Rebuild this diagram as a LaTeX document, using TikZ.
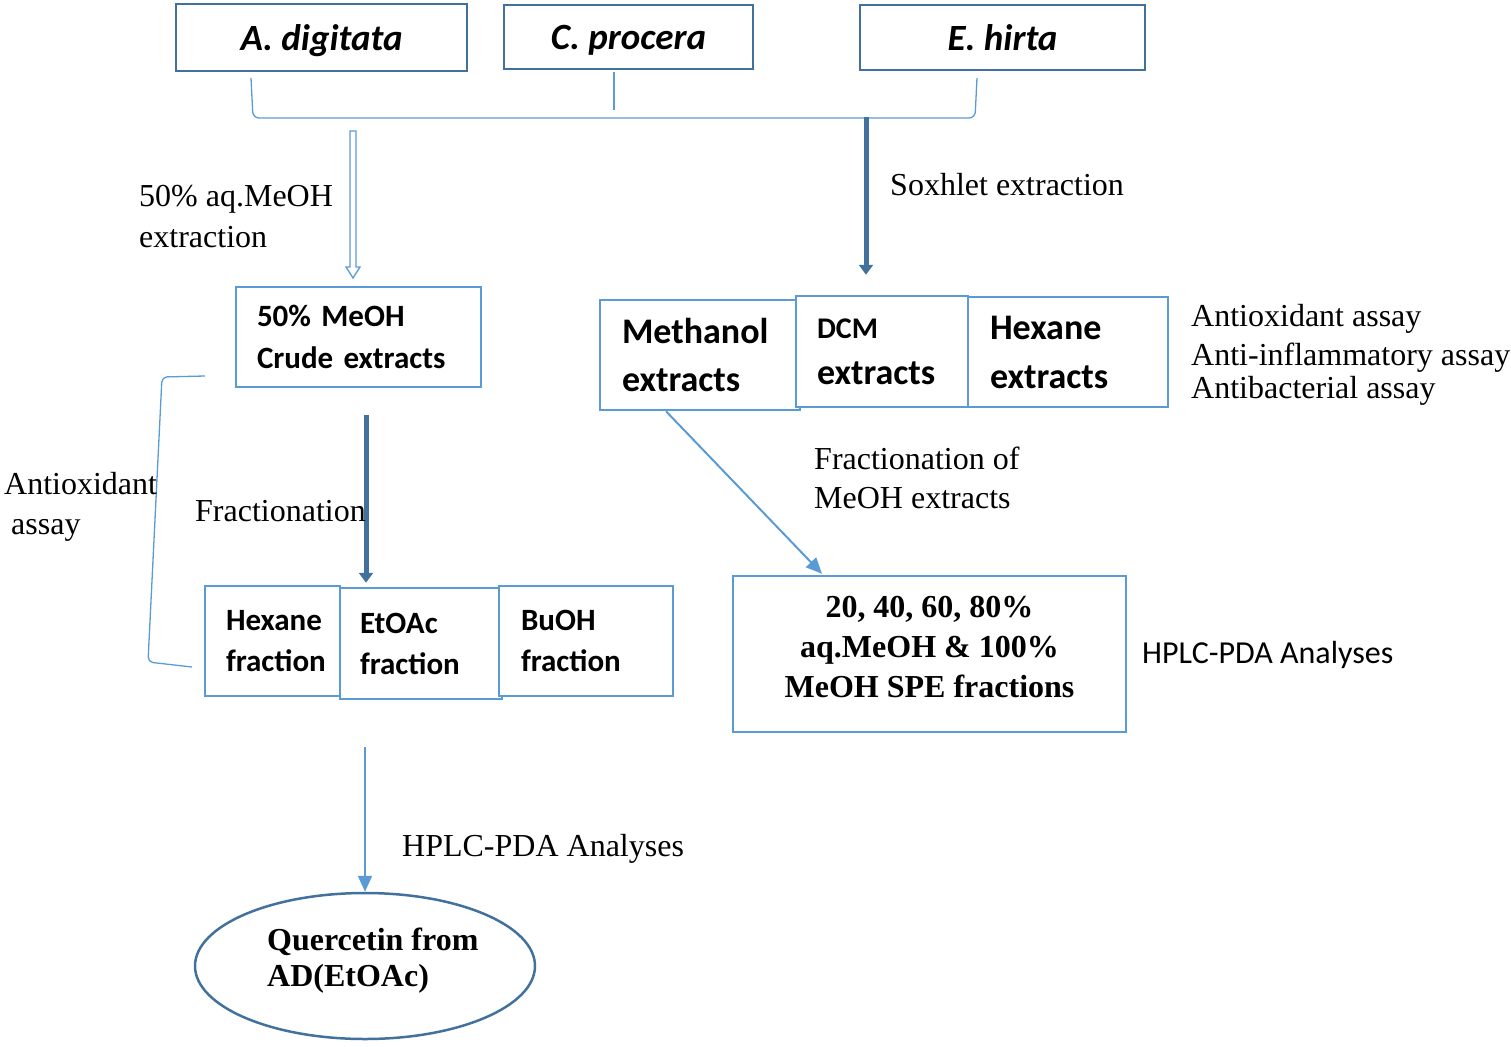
\documentclass[tikz,border=0pt]{standalone}
\usepackage{fontspec}
\setmainfont{Liberation Serif}
\setsansfont{Carlito}
\usetikzlibrary{arrows.meta,shapes.geometric,calc}
\definecolor{lb}{RGB}{91,155,213}
\definecolor{db}{RGB}{65,113,156}
\hfuzz=200pt
\begin{document}
\begin{tikzpicture}[x=1pt,y=-1pt,
  topbox/.style={draw=db, line width=2.5pt, inner sep=0pt, text height=34pt, text depth=8pt,
    font=\sffamily\bfseries\itshape\fontsize{37}{44}\selectfont},
  box/.style={draw=lb, line width=2.5pt, fill=white, align=left, inner sep=0pt,
    font=\sffamily\bfseries},
  lbl/.style={anchor=base west, inner sep=0pt, font=\fontsize{32}{40}\selectfont},
  thinline/.style={draw=lb, line width=1.3pt},
  thickarr/.style={draw=db, line width=5pt, -{Triangle[length=10pt,width=14pt]}},
  thinarr/.style={draw=lb, line width=2pt, -{Triangle[length=16pt,width=14pt]}}
]
\useasboundingbox (0,0) rectangle (1511,1046);

% top boxes
\node[topbox, minimum width=291pt, minimum height=67pt] (adig) at (321.5,37.5) {A. digitata};
\node[topbox, minimum width=249pt, minimum height=64pt] (cpro) at (628.5,37) {C. procera};
\node[topbox, minimum width=285pt, minimum height=65pt] (ehir) at (1002.5,37.5) {E. hirta};

% brace joining the plants
\coordinate (bl) at (251,78);
\coordinate (br) at (977,78);
\coordinate (bm) at (614,72);
\coordinate (bmb) at (614,110);
\coordinate (bj) at (866,117);
\draw[thinline, rounded corners=6pt] (bl) -- (253,118) -- (975,118) -- (br);
\draw[thinline] (bm) -- (bmb);

% extraction boxes
\node[box, minimum width=245pt, minimum height=100pt, text width=203pt,
  font=\sffamily\bfseries\fontsize{31}{42}\selectfont] (crude) at (358.5,337)
  {50\% MeOH\\Crude extracts};
\node[box, minimum width=200pt, minimum height=110pt, text width=156pt,
  font=\sffamily\bfseries\fontsize{36}{48}\selectfont] (meth) at (700,355)
  {Methanol\\extracts};
\node[box, minimum width=172pt, minimum height=111pt, text width=130pt,
  font=\sffamily\bfseries\fontsize{36}{46}\selectfont] (dcm) at (882,351.5)
  {{\fontsize{30}{46}\selectfont DCM}\\extracts};
\node[box, minimum width=200pt, minimum height=110pt, text width=156pt,
  font=\sffamily\bfseries\fontsize{36}{49}\selectfont] (hexe) at (1068,352)
  {Hexane\\extracts};

% fraction boxes
\node[box, minimum width=135pt, minimum height=110pt, text width=93pt,
  font=\sffamily\bfseries\fontsize{31}{41}\selectfont] (hexf) at (272.5,641)
  {Hexane\\fraction};
\node[box, minimum width=162pt, minimum height=111pt, text width=122pt,
  font=\sffamily\bfseries\fontsize{31}{41}\selectfont] (etf) at (421,643.5)
  {EtOAc\\fraction};
\node[box, minimum width=174pt, minimum height=110pt, text width=130pt,
  font=\sffamily\bfseries\fontsize{31}{41}\selectfont] (buf) at (586,641)
  {BuOH\\fraction};

% SPE box
\node[draw=lb, line width=2.5pt, minimum width=393pt, minimum height=156pt, inner sep=0pt] (spe) at (929.5,654) {};
\node[align=center, inner sep=0pt, font=\bfseries\fontsize{32}{40}\selectfont] (spet) at (929.5,647)
  {20, 40, 60, 80\%\\aq.MeOH \& 100\%\\MeOH SPE fractions};

% ellipse
\node[draw=db, line width=2.5pt, ellipse, minimum width=340pt, minimum height=146pt, inner sep=0pt] (ell) at (365,966) {};
\node[align=left, inner sep=0pt, anchor=west, font=\bfseries\fontsize{32}{36}\selectfont] (ellt) at (267,961)
  {Quercetin from\\AD(EtOAc)};

% connectors
\draw[lb, line width=1.3pt, fill=white] (350,131) -- (350,267) -- (346,267) -- (353,278) -- (360,267) -- (356,267) -- (356,131) -- cycle;
\draw[thickarr] (bj) -- ($(dcm.north)+(-16,-20)$);
\draw[thickarr] ($(crude.south)+(7.5,27)$) -- ($(etf.north)+(-55,-4)$);
\draw[thinarr] ($(meth.south)+(-34,0)$) -- ($(spe.north)+(-107.5,-1)$);
\draw[thinarr] ($(etf.south)+(-56,47)$) -- (ell.north);

% left bracket
\coordinate (lbt) at (205,376);
\coordinate (lbb) at (192,667);
\draw[thinline, rounded corners=5pt] (lbt) -- (162,377) -- (148,662) -- (lbb);

% labels
\node[lbl] (l1) at (139,206) {50\% aq.MeOH};
\node[lbl] (l2) at (139,247) {extraction};
\node[lbl] (l3) at (890,195) {Soxhlet extraction};
\node[lbl] (l4) at (1191,326) {Antioxidant assay};
\node[lbl] (l5) at (1191,365) {Anti-inflammatory assay};
\node[lbl] (l6) at (1191,398) {Antibacterial assay};
\node[lbl] (l7) at (4,494) {Antioxidant};
\node[lbl] (l8) at (11,534) {assay};
\node[lbl] (l9) at (195,521) {Fractionation};
\node[lbl] (l10) at (814,469) {Fractionation of};
\node[lbl] (l11) at (814,508) {MeOH extracts};
\node[lbl, font=\sffamily\fontsize{32}{40}\selectfont] (l12) at (1142,663) {HPLC-PDA Analyses};
\node[lbl] (l13) at (402,856) {HPLC-PDA Analyses};
\end{tikzpicture}
\end{document}
